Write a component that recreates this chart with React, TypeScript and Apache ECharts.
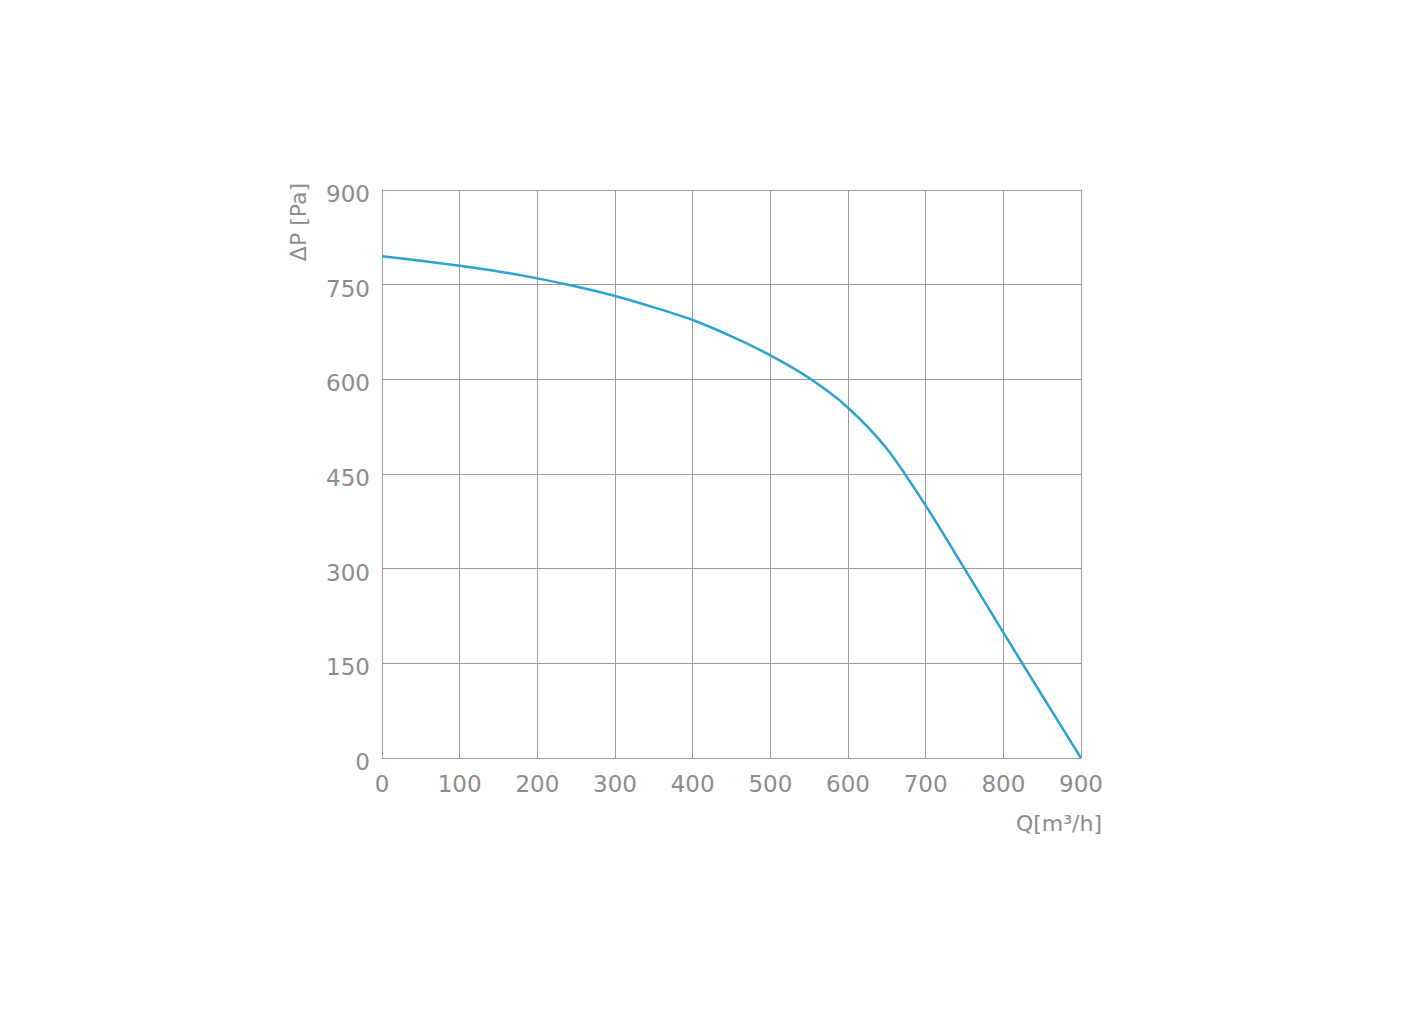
import * as echarts from 'echarts'
import { useEffect, useRef } from 'react'

const flowQ = [0, 50, 100, 150, 200, 250, 300, 350, 400, 450, 500, 550, 600, 650, 700, 750, 800, 850, 900]
const pressureP = [795, 788, 780, 771, 760, 747, 732, 714, 694, 668, 638, 602, 555, 490, 400, 300, 199, 99, 0]

const xTicks = [0, 100, 200, 300, 400, 500, 600, 700, 800, 900]
const yTicks = [0, 150, 300, 450, 600, 750, 900]

const FONT = 'DejaVu Sans'
const TEXT = '#8c8c8c'
const GRID = '#9a9a9a'

export default function App() {
  const ref = useRef<HTMLDivElement | null>(null)

  useEffect(() => {
    if (!ref.current) return
    const chart = echarts.init(ref.current, undefined, { renderer: 'svg' })

    chart.setOption({
      animation: false,
      backgroundColor: '#ffffff',
      grid: { left: 382, right: 336, top: 190, bottom: 274 },
      xAxis: {
        type: 'value',
        min: xTicks[0],
        max: xTicks[xTicks.length - 1],
        interval: 100,
        axisLine: { show: true, lineStyle: { color: GRID, width: 1 } },
        axisTick: { show: false },
        axisLabel: { color: TEXT, fontFamily: FONT, fontSize: 23, margin: 14 },
        splitLine: { show: true, lineStyle: { color: GRID, width: 1 } },
      },
      yAxis: {
        type: 'value',
        min: yTicks[0],
        max: yTicks[yTicks.length - 1],
        interval: 150,
        axisLine: { show: true, lineStyle: { color: GRID, width: 1 } },
        axisTick: { show: false },
        axisLabel: {
          margin: 12,
          formatter: (v: number) => `{t|${v}}`,
          rich: {
            t: {
              color: TEXT,
              fontFamily: FONT,
              fontSize: 23,
              padding: [8, 0, 0, 0],
            },
          },
        },
        splitLine: { show: true, lineStyle: { color: GRID, width: 1 } },
      },
      graphic: [
        {
          type: 'text',
          x: 298,
          y: 222,
          rotation: Math.PI / 2,
          style: {
            text: 'ΔP [Pa]',
            fill: TEXT,
            font: `22px "${FONT}"`,
            align: 'center',
            verticalAlign: 'middle',
          },
        },
        {
          type: 'text',
          x: 1102,
          y: 823,
          style: {
            text: 'Q[m³/h]',
            fill: TEXT,
            font: `22px "${FONT}"`,
            align: 'right',
            verticalAlign: 'middle',
          },
        },
      ],
      series: [
        {
          type: 'line',
          data: flowQ.map((q, i) => [q, pressureP[i]]),
          smooth: 0.3,
          showSymbol: false,
          symbol: 'none',
          lineStyle: { color: '#2aa3d2', width: 2.5 },
        },
      ],
    })

    return () => chart.dispose()
  }, [])

  return (
    <div
      ref={ref}
      style={{ position: 'fixed', left: 0, top: 0, width: 1417, height: 1032 }}
    />
  )
}
